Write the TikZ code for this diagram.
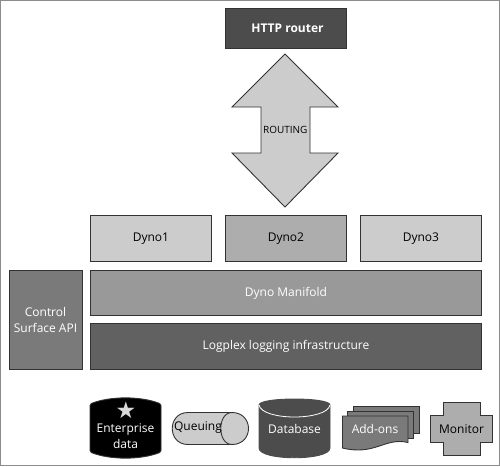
\documentclass[tikz,border=0pt]{standalone}
\usepackage{fontspec}
\setmainfont{Open Sans}
\newfontfamily\symfont{DejaVu Sans}
\definecolor{framec}{gray}{0.55}
\definecolor{edgec}{gray}{0.2}
\tikzset{
  x=1pt,y=-1pt,
  bx/.style={draw=edgec,line width=0.9pt,minimum height=0pt,inner sep=0pt,text=#1,font=\fontsize{12}{15}\selectfont},
  bx/.default=black,
  lbl/.style={inner sep=0pt,align=center,text=#1,font=\fontsize{12}{16}\selectfont},
  lbl/.default=black,
  shp/.style={draw=edgec,line width=0.9pt,line join=miter}
}
\newcommand{\boxnode}[8]{%
  \node[bx=#7,fill=#6,minimum width=#4 pt-#2 pt,minimum height=#5 pt-#3 pt,anchor=north west] (#1) at (#2,#3) {#8};}
\begin{document}
\begin{tikzpicture}
\useasboundingbox (0,0) rectangle (500,466);
\draw[framec,line width=1.2pt] (0.6,0.6) rectangle (499.4,465.4);

\boxnode{router}{225}{8}{346}{48}{black!70}{white}{\hspace*{3pt}\bfseries HTTP router}
\boxnode{dynoa}{90}{215}{211}{261}{black!20}{black}{Dyno1}
\boxnode{dynob}{225}{215}{346}{261}{black!32}{black}{Dyno2}
\boxnode{dynoc}{360}{215}{481}{261}{black!20}{black}{Dyno3}
\boxnode{manifold}{90}{270}{481}{315}{black!40}{white}{Dyno Manifold}
\boxnode{logplex}{90}{323}{481}{369}{black!62}{white}{Logplex logging infrastructure}
\boxnode{control}{9}{270}{82}{369}{black!52}{white}{}
\node[lbl=white] (controltext) at (45.5,320) {Control\\Surface API};

% routing arrow
\draw[shp,fill=black!20] (285,54) -- (338,107) -- (310,107) -- (310,153) -- (338,153) -- (285,207)
  -- (232,153) -- (261,153) -- (261,107) -- (232,107) -- cycle;
\node[lbl,font=\fontsize{10}{12}\selectfont] (routing) at (285.3,130) {ROUTING};

% enterprise data
\draw[shp,fill=black,rounded corners=1.5pt] (90,404) .. controls (110,396) and (141,396) .. (161,404) -- (161,452)
  .. controls (141,460) and (110,460) .. (90,452) -- cycle;
\node[lbl=black!15,font=\symfont\fontsize{23}{23}\selectfont] (star) at (126,410) {★};
\node[lbl=white] (enterprise) at (125.5,436.5) {Enterprise\\data};

% queuing
\draw[shp,fill=black!20] (188,412.5) -- (232,412.5) .. controls (254,412.5) and (254,444.5) .. (232,444.5)
  -- (188,444.5) .. controls (167,444.5) and (167,412.5) .. (188,412.5) -- cycle;
\draw[shp] (232,412.5) .. controls (217,412.5) and (217,444.5) .. (232,444.5);
\node[lbl] (queuing) at (198,428) {Queuing};

% database
\draw[shp,fill=black!70,draw=black!70] (259,405) .. controls (259,397) and (330,397) .. (330,405) -- (330,448)
  .. controls (330,461) and (259,461) .. (259,448) -- cycle;
\draw[white,line width=0.8pt] (259,405) .. controls (262,421) and (327,421) .. (330,405);
\node[lbl=white] (database) at (294.5,429) {Database};

% add-ons
\draw[shp,fill=black!52] (353,406) -- (419,406) -- (419,433.5) -- (353,433.5) -- cycle;
\draw[shp,fill=black!52] (347.5,411) -- (413.5,411) -- (413.5,438) -- (347.5,438) -- cycle;
\draw[shp,fill=black!52] (342.5,416) -- (408,416) -- (408,442.5) .. controls (385,437) and (375,456) .. (342.5,448) -- cycle;
\node[lbl=white] (addons) at (375,429) {Add-ons};

% monitor
\draw[shp,fill=black!32] (443,402) -- (480,402) -- (480,415) -- (492.5,415) -- (492.5,442) -- (480,442)
  -- (480,455.5) -- (443,455.5) -- (443,442) -- (430.5,442) -- (430.5,415) -- (443,415) -- cycle;
\node[lbl] (monitor) at (461.5,429) {Monitor};
\end{tikzpicture}
\end{document}
